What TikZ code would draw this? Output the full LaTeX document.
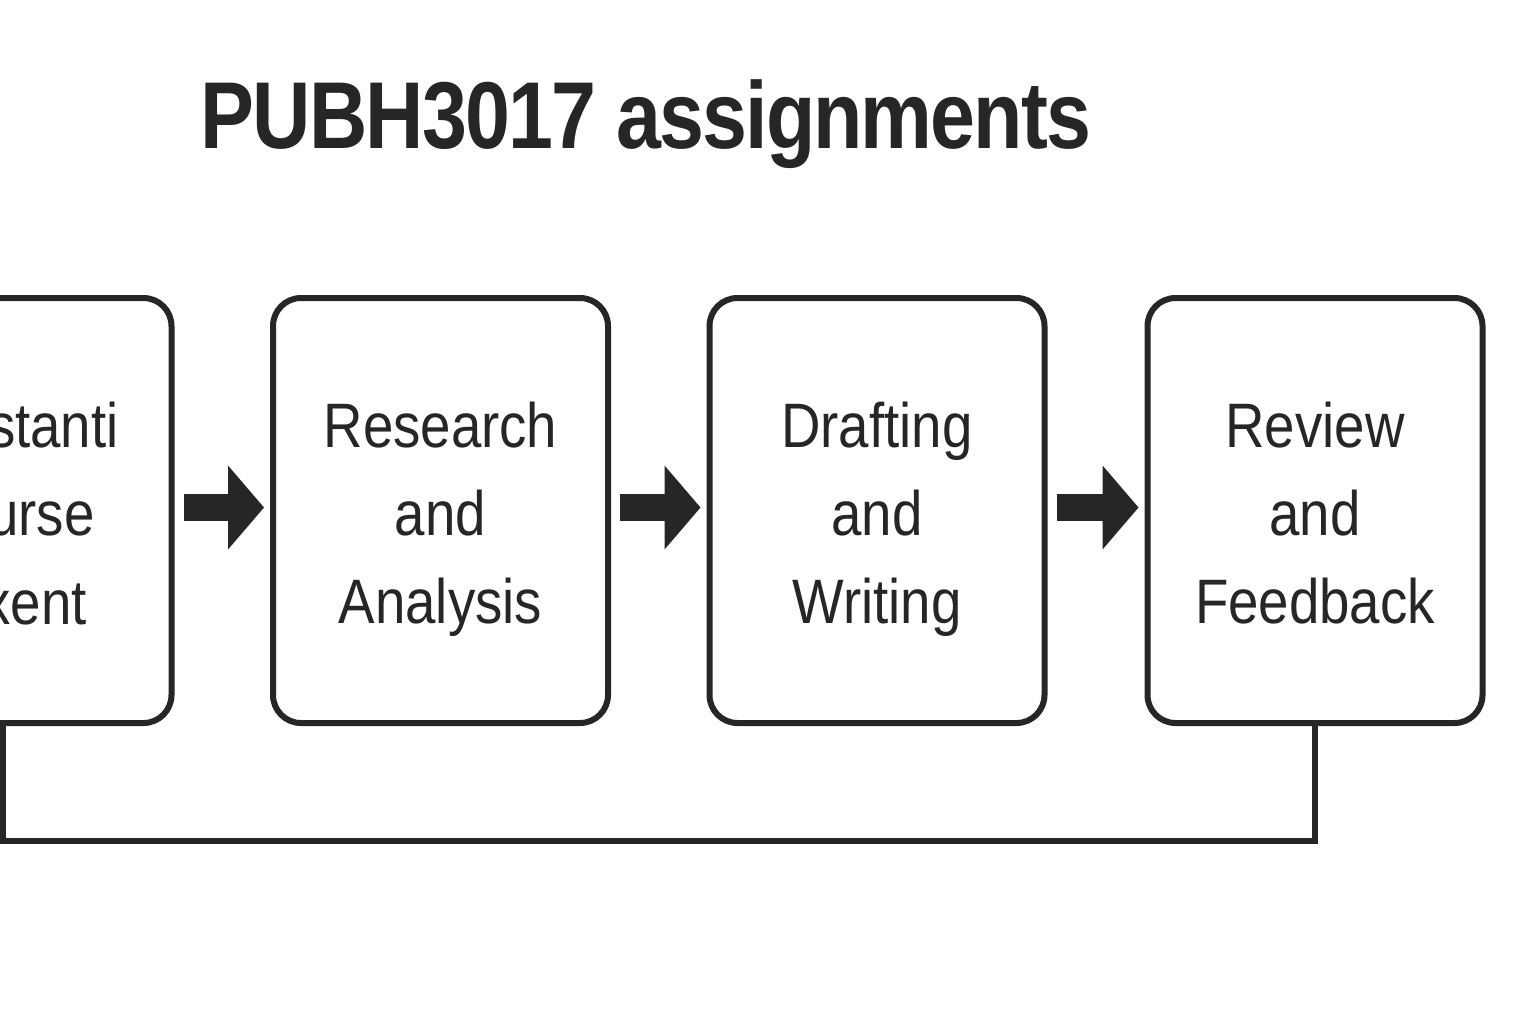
\documentclass[tikz,border=0pt]{standalone}
\usepackage{fontspec}
\setmainfont{Liberation Sans}
\newfontfamily\titlefont[FakeStretch=0.85,LetterSpace=-2]{Liberation Sans}
\newfontfamily\boxfont[FakeStretch=0.87]{Liberation Sans}
\usetikzlibrary{arrows.meta}
\definecolor{ink}{HTML}{262626}
\begin{document}
\begin{tikzpicture}[x=0.5pt,y=-0.5pt,
  box/.style={draw=ink, line width=3pt, rounded corners=14pt,
    minimum width=167.5pt, minimum height=212.5pt, inner sep=0pt},
  lbl/.style={font=\boxfont\fontsize{31.4}{36}\selectfont, text=ink, inner sep=0pt, anchor=base},
  flow/.style={draw=ink, line width=13.5pt,
    -{Triangle[length=18pt,width=42pt,line width=0pt]}},
  loopline/.style={draw=ink, line width=3pt}]
\fill[white] (0,0) rectangle (1536,1024);
\clip (0,0) rectangle (1536,1024);
\node[font=\titlefont\bfseries\fontsize{47.5}{56}\selectfont, text=ink, inner sep=0pt, anchor=base]
  (title) at (646,148) {PUBH3017 assignments};
% boxes
\node[box] (b1) at (4,510.5) {};
\node[box] (b2) at (440.5,510.5) {};
\node[box] (b3) at (877,510.5) {};
\node[box] (b4) at (1315,510.5) {};
% box texts
\node[lbl, anchor=base east] (b1a) at (119,447) {stanti};
\node[lbl, anchor=base east] (b1b) at (95,535) {urse};
\node[lbl, anchor=base east] (b1c) at (87,624) {xent};
\node[lbl] (b2a) at (440.5,447) {Research};
\node[lbl] (b2b) at (440.5,535) {and};
\node[lbl] (b2c) at (440.5,623) {Analysis};
\node[lbl] (b3a) at (877,447) {Drafting};
\node[lbl] (b3b) at (877,535) {and};
\node[lbl] (b3c) at (877,623) {Writing};
\node[lbl] (b4a) at (1315,447) {Review};
\node[lbl] (b4b) at (1315,535) {and};
\node[lbl] (b4c) at (1315,623) {Feedback};
% arrows
\draw[flow] ([shift={(9,-3)}]b1.east) -- ([shift={(-6,-3)}]b2.west);
\draw[flow] ([shift={(9,-3)}]b2.east) -- ([shift={(-6,-3)}]b3.west);
\draw[flow] ([shift={(9,-3)}]b3.east) -- ([shift={(-6,-3)}]b4.west);
% feedback loop
\coordinate (loopy) at (3,841);
\draw[loopline] (b4.south) |- (loopy) -- (loopy |- b1.south);
\end{tikzpicture}
\end{document}
